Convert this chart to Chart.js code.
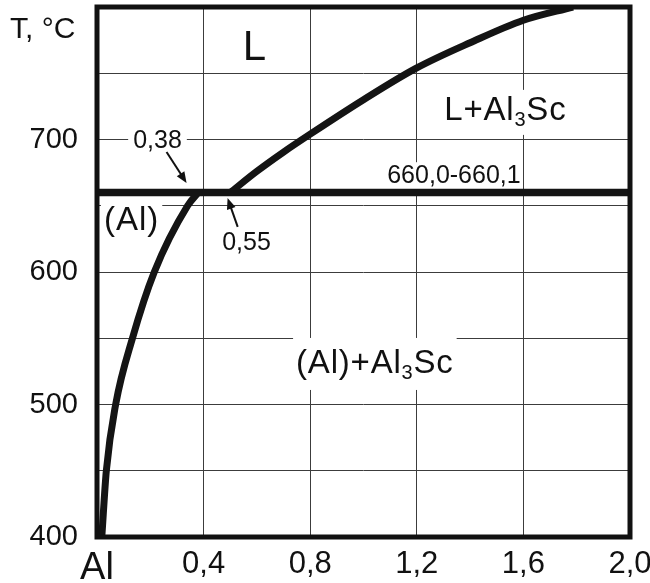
<!DOCTYPE html>
<html><head><meta charset="utf-8">
<script src="https://cdn.jsdelivr.net/npm/chart.js@4"></script>
<style>html,body{margin:0;padding:0;background:#fff}#wrap{width:650px;height:583px}</style>
</head><body><div id="wrap"><canvas id="c" width="650" height="583"></canvas></div>
<script>
// ---- data ----
const xTicks = [0, 0.4, 0.8, 1.2, 1.6, 2.0];
const xTickLabels = ['Al', '0,4', '0,8', '1,2', '1,6', '2,0'];
const yTickLabels = ['400', '500', '600', '700'];
const eutecticT = 660;
const eutecticX = [0, 2.0];
const liquidusX = [0.5, 0.6, 0.7, 0.8, 1.0, 1.2, 1.4, 1.6, 1.786];
const liquidusT = [660, 676, 690.5, 704, 730, 754, 773, 790, 800];
const solvusX = [0.018, 0.035, 0.07, 0.133, 0.215, 0.34, 0.38];
const solvusT = [400, 450, 500, 550, 600, 650, 660];

const FONT = '"Liberation Sans", Arial, Helvetica, sans-serif';
const INK = '#111';

function drawSegs(ctx, segs, x, y, size, align, spacing, bg, pad) {
  ctx.save();
  ctx.textBaseline = 'alphabetic';
  ctx.textAlign = 'left';
  try { ctx.letterSpacing = (spacing || 0) + 'px'; } catch (e) {}
  let total = 0;
  const widths = segs.map(s => {
    ctx.font = (s.sub ? Math.round(size * 0.62) : size) + 'px ' + FONT;
    const w = ctx.measureText(s.t).width;
    total += w;
    return w;
  });
  let sx = align === 'center' ? x - total / 2 : x;
  if (bg) {
    const p = pad || [3, 3, 3, 3];
    ctx.fillStyle = '#fff';
    ctx.fillRect(sx - p[3], y - size * 0.75 - p[0], total + p[1] + p[3], size * 0.75 + size * 0.22 + p[0] + p[2]);
  }
  ctx.fillStyle = INK;
  segs.forEach((s, i) => {
    ctx.font = (s.sub ? Math.round(size * 0.62) : size) + 'px ' + FONT;
    ctx.fillText(s.t, sx, s.sub ? y + size * 0.2 : y);
    sx += widths[i];
  });
  ctx.restore();
}

function arrow(ctx, x1, y1, x2, y2) {
  const ang = Math.atan2(y2 - y1, x2 - x1);
  const hl = 11, hw = 4.5;
  ctx.save();
  ctx.strokeStyle = INK; ctx.fillStyle = INK; ctx.lineWidth = 2;
  ctx.beginPath();
  ctx.moveTo(x1, y1);
  ctx.lineTo(x2 - Math.cos(ang) * hl * 0.8, y2 - Math.sin(ang) * hl * 0.8);
  ctx.stroke();
  ctx.beginPath();
  ctx.moveTo(x2, y2);
  ctx.lineTo(x2 - Math.cos(ang) * hl - Math.sin(ang) * hw, y2 - Math.sin(ang) * hl + Math.cos(ang) * hw);
  ctx.lineTo(x2 - Math.cos(ang) * hl + Math.sin(ang) * hw, y2 - Math.sin(ang) * hl - Math.cos(ang) * hw);
  ctx.closePath();
  ctx.fill();
  ctx.restore();
}

const labelsPlugin = {
  id: 'labels',
  beforeDatasetsDraw(chart) {
    const { ctx, scales: { x, y } } = chart;
    const X = v => x.getPixelForValue(v), Y = v => y.getPixelForValue(v);
    drawSegs(ctx, [{ t: 'L' }], X(0.591), Y(760), 42, 'center', 0, false);
    drawSegs(ctx, [{ t: 'L+Al' }, { t: '3', sub: true }, { t: 'Sc' }], X(1.303), Y(715), 33, 'left', 0.8, true, [5, 3, 8, 3]);
    drawSegs(ctx, [{ t: '(Al)+Al' }, { t: '3', sub: true }, { t: 'Sc' }], X(0.747), Y(524), 33, 'left', 0.8, true, [10, 3, 10, 3]);
    drawSegs(ctx, [{ t: '(Al)' }], X(0.026), Y(632), 33, 'left', 1, true, [2, 3, 3, 3]);
    drawSegs(ctx, [{ t: '0,38' }], X(0.227), Y(693.6), 25, 'center', 0, true, [3, 5, 3, 5]);
    drawSegs(ctx, [{ t: '0,55' }], X(0.561), Y(616.6), 25, 'center', 0, true, [2, 3, 2, 3]);
    drawSegs(ctx, [{ t: '660,0-660,1' }], X(1.089), Y(667.2), 25, 'left', 0, true, [2, 0, 2, 2]);
  },
  afterDatasetsDraw(chart) {
    const { ctx, scales: { x, y }, chartArea: a } = chart;
    const X = v => x.getPixelForValue(v), Y = v => y.getPixelForValue(v);
    arrow(ctx, X(0.261), Y(690.6), X(0.336), Y(667.2));
    arrow(ctx, X(0.528), Y(634), X(0.490), Y(655.8));
    ctx.save();
    ctx.strokeStyle = '#111'; ctx.lineWidth = 5;
    ctx.strokeRect(a.left, a.top, a.right - a.left, a.bottom - a.top);
    ctx.restore();
    drawSegs(ctx, [{ t: 'T, °C' }], 10, 38, 30, 'left', 0, false);
  }
};

const line = (pts, w) => ({
  data: pts, showLine: true, pointRadius: 0, borderColor: '#141414', borderWidth: w,
  cubicInterpolationMode: 'monotone', borderCapStyle: 'butt', borderJoinStyle: 'round', fill: false
});

new Chart(document.getElementById('c'), {
  type: 'scatter',
  data: {
    datasets: [
      line(eutecticX.map(v => ({ x: v, y: eutecticT })), 7.5),
      line(liquidusX.map((v, i) => ({ x: v, y: liquidusT[i] })), 7),
      line(solvusX.map((v, i) => ({ x: v, y: solvusT[i] })), 7)
    ]
  },
  options: {
    responsive: false, animation: false, devicePixelRatio: 1,
    layout: { padding: { top: 7, right: 20, left: 0, bottom: 0 } },
    plugins: { legend: { display: false }, tooltip: { enabled: false } },
    scales: {
      x: {
        type: 'linear', min: 0, max: 2,
        afterBuildTicks: s => { s.ticks = xTicks.map(v => ({ value: v })); },
        afterFit: s => { s.height = 46; s.paddingLeft = 0; s.paddingRight = 0; },
        ticks: {
          autoSkip: false, maxRotation: 0, padding: 9, color: INK,
          callback: (v) => { const i = xTicks.findIndex(t => Math.abs(t - v) < 1e-6); return i >= 0 ? xTickLabels[i] : ''; },
          font: c => ({ family: FONT, size: (c.tick && c.tick.value === 0) ? 38 : 31 })
        },
        grid: { color: '#3c3c3c', lineWidth: 1, drawTicks: false },
        border: { display: false }
      },
      y: {
        type: 'linear', min: 400, max: 800,
        afterFit: s => { s.width = 97; s.paddingTop = 0; s.paddingBottom = 0; },
        ticks: {
          stepSize: 50, padding: 19, color: INK,
          callback: v => yTickLabels.includes(String(v)) ? String(v) : '',
          font: { family: FONT, size: 29 }
        },
        grid: { color: '#3c3c3c', lineWidth: 1, drawTicks: false },
        border: { display: false }
      }
    }
  },
  plugins: [labelsPlugin]
});
</script>
</body></html>
